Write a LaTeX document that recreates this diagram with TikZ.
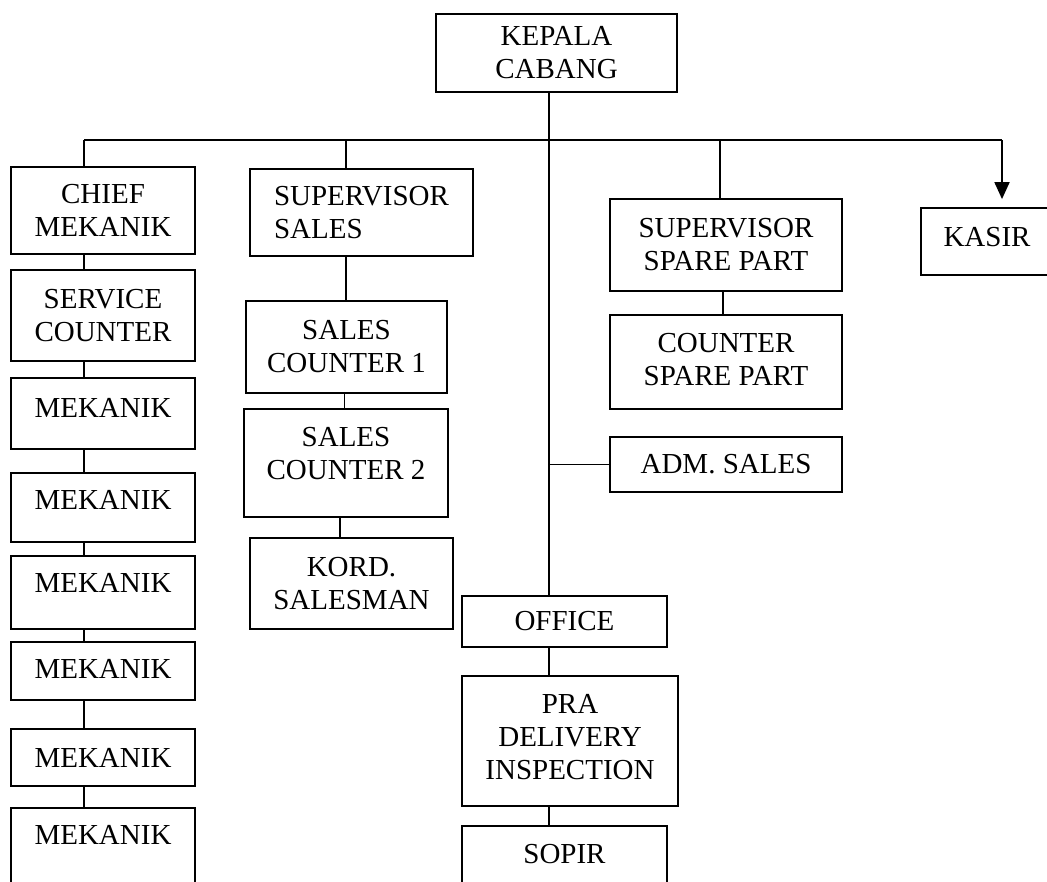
\documentclass[tikz,border=0pt]{standalone}
\usepackage{fontspec}
\setmainfont{Liberation Serif}
\usetikzlibrary{positioning,arrows.meta}
\tikzset{
>={Triangle[length=17pt,width=15pt]},
  box/.style={
    rectangle,
    % fill=white,
    draw=black, line width=1.8pt,
    align=center,
    font=\fontsize{29}{33}\selectfont,
    minimum width=184pt},
  line/.style={draw, line width=1.8pt},
}
\begin{document}
\begin{tikzpicture}[x=1pt,y=-1pt]
\useasboundingbox (0,0) rectangle (1047,881);
\clip (0,0) rectangle (1047,881);

\node[box, minimum width=241pt, minimum height=78pt] (kepala) at (556.5,53) {KEPALA\\CABANG};

% bengkel
\node[box, minimum height=87pt] (chief) at (103,210.5) {CHIEF\\MEKANIK};
\node[box, minimum height=91pt] (service) at (103,315.5) {SERVICE\\COUNTER};
\foreach \i/\y/\h/\d in {1/413.5/71pt/11pt, 2/507.5/69pt/15pt, 3/592.5/73pt/19pt,
    4/671/58pt/4pt, 5/757.5/57pt/0pt, 6/869/122pt/68pt}
  \node[box, minimum height=\h, text depth=\d] (mek\i) at (103,\y) {MEKANIK};

% sales
\node[box, align=left, minimum width=223pt, minimum height=87pt] (suprsales) at (361.5,212.5) {SUPERVISOR\\SALES};
\node[box, minimum width=201pt, minimum height=92pt] (sales1) at (346.5,347) {SALES\\COUNTER 1};
\node[box, minimum width=204pt, minimum height=108pt, text depth=20pt] (sales2) at (346,463) {SALES\\COUNTER 2};
\node[box, minimum width=203pt, minimum height=91pt] (kord) at (351.5,583.5) {KORD.\\SALESMAN};

% office
\node[box, minimum width=205pt, minimum height=51pt] (office) at (564.5,621.5) {OFFICE};
\node[box, minimum width=216pt, minimum height=130pt, text depth=8pt] (pdi) at (570,741) {PRA\\DELIVERY\\INSPECTION};
\node[box, minimum width=205pt, minimum height=104pt, text depth=48pt] (sopir) at (564.5,878) {SOPIR};

% spare part
\node[box, minimum width=232pt, minimum height=92pt] (supspare) at (726,245) {SUPERVISOR\\SPARE PART};
\node[box, minimum width=232pt, minimum height=94pt, text depth=6pt] (cspare) at (726,362) {COUNTER\\SPARE PART};
\node[box, minimum width=232pt, minimum height=55pt] (adm) at (726,464.5) {ADM. SALES};
\node[box, minimum width=132pt, minimum height=67pt, text depth=9pt] (kasir) at (987,241.5) {KASIR};

\coordinate (busL) at (84,140);
\coordinate (busR) at (1002,140);
\coordinate (trunk) at (549,140);
\coordinate (dropS) at (346,140);
\coordinate (dropP) at (720,140);

\draw[line] (busL) -- (busR);
\draw[line, ->, shorten >=8pt] (busR) -- (kasir.north -| busR);
\draw[line] (kepala.south -| trunk) -- (office.north -| trunk);

\draw[line] (busL) -- (chief.north -| busL);
\foreach \a/\b in {chief/service, service/mek1, mek1/mek2, mek2/mek3,
    mek3/mek4, mek4/mek5, mek5/mek6}
  \draw[line] (\a.south -| busL) -- (\b.north -| busL);

\draw[line] (dropS) -- (suprsales.north -| dropS);
\draw[line] (suprsales.south -| dropS) -- (sales1.north -| dropS);
\draw[line] ([xshift=-2pt]sales1.south) -- ([xshift=-2pt]sales1.south |- sales2.north);
\draw[line] ([xshift=-6pt]sales2.south) -- ([xshift=-6pt]sales2.south |- kord.north);

\draw[line] (dropP) -- (supspare.north -| dropP);
\draw[line] ([xshift=-3pt]supspare.south) -- ([xshift=-3pt]cspare.north);
\draw[line] (adm.west -| trunk) -- (adm.west);

\draw[line] (office.south -| trunk) -- (pdi.north -| trunk);
\draw[line] (pdi.south -| trunk) -- (sopir.north -| trunk);

\end{tikzpicture}
\end{document}
